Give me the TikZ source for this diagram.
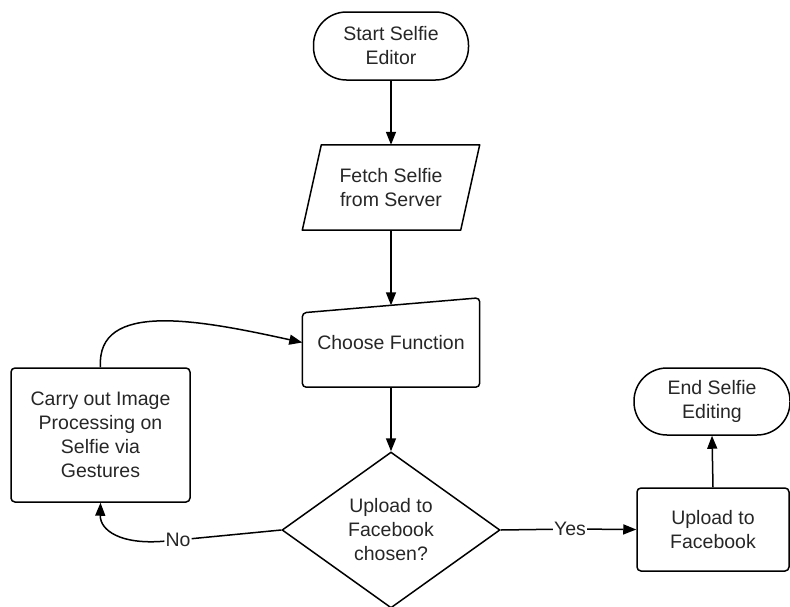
\documentclass[tikz,border=0pt]{standalone}
\usepackage{fontspec}
\setmainfont{Liberation Sans}
\usetikzlibrary{shapes.geometric,arrows.meta}
\begin{document}
\begin{tikzpicture}[x=1pt,y=-1pt,
  txt/.style={font=\fontsize{19.5}{24}\selectfont, text=black!85, align=center},
  box/.style={txt, draw, line width=1.5pt, rounded corners=4pt},
  term/.style={txt, draw, line width=1.5pt, rounded corners=33pt},
  conn/.style={line width=1.5pt, -{Triangle[length=13pt,width=10pt]}},
  plain/.style={line width=1.5pt},
  lab/.style={txt, fill=white, inner sep=1pt}]
\useasboundingbox (0,0) rectangle (790,606);

\node[term, minimum width=155pt, minimum height=68pt] (start) at (391,46) {Start Selfie\\Editor};

\node[txt, minimum width=177pt, minimum height=85pt, inner sep=0pt] (fetch) at (391,187.5) {Fetch Selfie\\from Server};
\draw[plain, line join=round] (fetch.south west) -- ([xshift=19pt]fetch.north west) -- (fetch.north east) -- ([xshift=-19pt]fetch.south east) -- cycle;

\node[txt, minimum width=177pt, minimum height=89pt, inner sep=0pt] (choose) at (391,342.5) {Choose Function};
\draw[plain, rounded corners=4pt] (choose.south west) -- ([yshift=-15pt]choose.north west) -- (choose.north east) -- (choose.south east) -- cycle;

\node[txt, diamond, draw, line width=1.5pt, minimum width=218pt, minimum height=152pt, inner sep=2pt] (dia) at (391,530) {Upload to\\Facebook\\chosen?};

\node[box, minimum width=179pt, minimum height=134pt] (carry) at (100.5,435) {Carry out Image\\Processing on\\Selfie via\\Gestures};

\node[box, minimum width=152pt, minimum height=83pt] (up) at (713,529.5) {Upload to\\Facebook};
\node[term, minimum width=156pt, minimum height=67pt] (end) at (712,401.5) {End Selfie\\Editing};

\draw[conn] (start.south) -- (fetch.north);
\draw[conn] (fetch.south) -- ([yshift=-7.5pt]choose.north);
\draw[conn] (choose.south) -- (dia.north);
\draw[conn] (carry.north) .. controls (96,300) and (200,320) .. (choose.west);

\node[lab] (no) at (178,540) {No};
\draw[plain] (dia.west) -- (no);
\draw[conn] (no) .. controls (120,545) and (100,530) .. (carry.south);

\node[lab] (yes) at (570,529) {Yes};
\draw[plain] (dia.east) -- (yes);
\draw[conn] (yes) -- (up.west);
\draw[conn] (up.north) -- (end.south);
\end{tikzpicture}
\end{document}
